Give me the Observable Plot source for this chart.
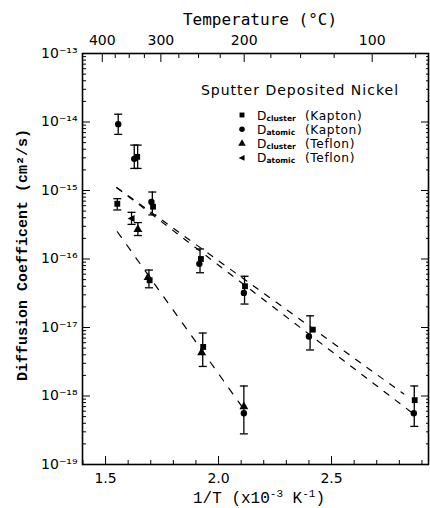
<!DOCTYPE html>
<html><head><meta charset="utf-8">
<script src="https://cdn.jsdelivr.net/npm/d3@7"></script>
<script src="https://cdn.jsdelivr.net/npm/@observablehq/plot@0.6"></script>
<style>
html,body{margin:0;padding:0;background:#fff;}
#chart{position:relative;width:430px;height:508px;}
</style></head><body><div id="chart"></div>
<script>
// ---------- data ----------
const clusterKaptonX = [1.640, 1.552, 1.710, 1.695, 1.922, 2.117, 1.932, 2.417, 2.868];
const clusterKaptonD = [3.1e-15, 6.4e-16, 5.8e-16, 4.9e-17, 1.0e-16, 4.0e-17, 5.2e-18, 9.3e-18, 8.7e-19];
const atomicKaptonX = [1.556, 1.627, 1.703, 1.915, 2.112, 2.112, 2.400, 2.864];
const atomicKaptonD = [9.3e-15, 2.9e-15, 6.8e-16, 8.5e-17, 3.2e-17, 5.6e-19, 7.4e-18, 5.6e-19];
const clusterTeflonX = [1.643, 1.688, 1.925, 2.112];
const clusterTeflonD = [2.7e-16, 5.4e-17, 4.3e-18, 7.0e-19];
const atomicTeflonX = [1.615];
const atomicTeflonD = [3.9e-16];

const errX  = [1.556, 1.627, 1.642, 1.552, 1.615, 1.643, 1.707, 1.692, 1.918, 2.115, 1.930, 2.112, 2.405, 2.866];
const errLo = [6.6e-15, 2.1e-15, 2.1e-15, 5.2e-16, 3.2e-16, 2.2e-16, 4.4e-16, 3.8e-17, 6.3e-17, 2.2e-17, 2.7e-18, 2.8e-19, 4.7e-18, 3.6e-19];
const errHi = [1.3e-14, 4.6e-15, 4.6e-15, 7.6e-16, 4.8e-16, 3.4e-16, 9.5e-16, 6.9e-17, 1.4e-16, 5.6e-17, 8.3e-18, 1.4e-18, 1.48e-17, 1.4e-18];

const fitAX = [1.55, 2.82];  const fitAD = [1.1e-15, 1.07e-18];
const fitBX = [1.55, 2.85];  const fitBD = [1.1e-15, 5.9e-19];
const fitCX = [1.552, 2.105]; const fitCD = [2.5e-16, 6.9e-19];

const legendMain = ["D", "D", "D", "D"];
const legendSub  = ["cluster", "atomic", "cluster", "atomic"];
const legendHost = ["(Kapton)", "(Kapton)", "(Teflon)", "(Teflon)"];
const legendTitle = "Sputter Deposited Nickel";

const yExponents = [-19, -18, -17, -16, -15, -14, -13];
const xMajorTicks = [1.5, 2.0, 2.5];
const tempMajor = [400, 300, 200, 100];
const tempMinor = [375, 350, 325, 275, 250, 225, 175, 150, 125, 75];

// ---------- helpers ----------
const toInvT = t => 1000 / (t + 273.15);
const sup = {"-":"\u207B","0":"\u2070","1":"\u00B9","2":"\u00B2","3":"\u00B3","4":"\u2074","5":"\u2075","6":"\u2076","7":"\u2077","8":"\u2078","9":"\u2079"};
const toSup = s => String(s).split("").map(c => sup[c] || c).join("");
const yDecades = yExponents.map(e => Math.pow(10, e));
const yMinor = [];
yExponents.slice(0, -1).forEach(e => { for (let m = 2; m <= 9; m++) yMinor.push(m * Math.pow(10, e)); });
const yFives = yExponents.slice(0, -1).map(e => 5 * Math.pow(10, e));
const xMinor = d3.range(14, 30).map(v => v / 10).filter(v => !xMajorTicks.includes(v));

const pts = (xs, ds) => xs.map((x, i) => ({x, d: ds[i]}));
const errs = errX.map((x, i) => ({x, lo: errLo[i], hi: errHi[i]}));
const fit = (xs, ds) => xs.map((x, i) => ({x, d: ds[i]}));

const leftTri = {draw(ctx, size) { const r = Math.sqrt(size / Math.PI) * 1.25;
  ctx.moveTo(-r, 0); ctx.lineTo(r * 0.75, -r * 0.85); ctx.lineTo(r * 0.75, r * 0.85); ctx.closePath(); }};
const capSym = {draw(ctx, size) { const w = Math.sqrt(size / Math.PI);
  ctx.moveTo(-w, 0); ctx.lineTo(w, 0); }};

const dash = "6,8";

const chart = Plot.plot({
  width: 430, height: 508,
  marginLeft: 82, marginRight: 2, marginTop: 53, marginBottom: 44,
  style: {fontFamily: "DejaVu Sans", fontSize: "13px", color: "#000", background: "#fff"},
  x: {domain: [1.398, 2.929]},
  y: {type: "log", domain: [1e-19, 1e-13]},
  marks: [
    // axes: labels
    Plot.axisY({anchor: "left", ticks: yDecades, tickSize: 0, tickPadding: 5, tickFormat: d => "10" + toSup(Math.round(Math.log10(d))), fontSize: 14, label: null}),
    Plot.axisY({anchor: "left", ticks: yFives, tickSize: 0, tickPadding: 6, tickFormat: () => "5", fontSize: 7, label: null}),
    Plot.axisX({anchor: "bottom", ticks: xMajorTicks, tickSize: 0, tickPadding: 9, tickFormat: d3.format(".1f"), fontSize: 14, label: null}),
    Plot.axisX({anchor: "top", ticks: tempMajor.map(toInvT), tickSize: 0, tickPadding: 9, tickFormat: v => String(Math.round(1000 / v - 273.15)), fontSize: 14, label: null}),
    // axes: inward ticks
    Plot.axisY({anchor: "left", ticks: yDecades, tickSize: -8, fill: "none", label: null}),
    Plot.axisY({anchor: "left", ticks: yMinor, tickSize: -4, fill: "none", label: null}),
    Plot.axisY({anchor: "right", ticks: yDecades, tickSize: -8, fill: "none", label: null}),
    Plot.axisY({anchor: "right", ticks: yMinor, tickSize: -3, fill: "none", label: null}),
    Plot.axisX({anchor: "bottom", ticks: xMajorTicks, tickSize: -8, fill: "none", label: null}),
    Plot.axisX({anchor: "bottom", ticks: xMinor, tickSize: -4, fill: "none", label: null}),
    Plot.axisX({anchor: "top", ticks: tempMajor.map(toInvT), tickSize: -8, fill: "none", label: null}),
    Plot.axisX({anchor: "top", ticks: tempMinor.map(toInvT), tickSize: -4, fill: "none", label: null}),
    Plot.frame({stroke: "#000", strokeWidth: 1.6}),
    // fit lines
    Plot.line(fit(fitAX, fitAD), {x: "x", y: "d", stroke: "#000", strokeWidth: 1.2, strokeDasharray: dash}),
    Plot.line(fit(fitBX, fitBD), {x: "x", y: "d", stroke: "#000", strokeWidth: 1.2, strokeDasharray: dash}),
    Plot.line(fit(fitCX, fitCD), {x: "x", y: "d", stroke: "#000", strokeWidth: 1.2, strokeDasharray: "7,9"}),
    // error bars
    Plot.ruleX(errs, {x: "x", y1: "lo", y2: "hi", stroke: "#000", strokeWidth: 1.3}),
    Plot.dot(errs, {x: "x", y: "lo", symbol: capSym, r: 4, stroke: "#000", strokeWidth: 1.3, fill: "none"}),
    Plot.dot(errs, {x: "x", y: "hi", symbol: capSym, r: 4, stroke: "#000", strokeWidth: 1.3, fill: "none"}),
    // points
    Plot.dot(pts(clusterKaptonX, clusterKaptonD), {x: "x", y: "d", symbol: "square", r: 3.3, fill: "#000", stroke: "none"}),
    Plot.dot(pts(atomicKaptonX, atomicKaptonD), {x: "x", y: "d", symbol: "circle", r: 3.2, fill: "#000", stroke: "none"}),
    Plot.dot(pts(clusterTeflonX, clusterTeflonD), {x: "x", y: "d", symbol: "triangle", r: 3.3, fill: "#000", stroke: "none"}),
    Plot.dot(pts(atomicTeflonX, atomicTeflonD), {x: "x", y: "d", symbol: leftTri, r: 3.2, fill: "#000", stroke: "none"})
  ]
});
document.getElementById("chart").appendChild(chart);

// ---------- titles & legend ----------
const svg = d3.select(chart);
svg.append("text").attr("x", 260).attr("y", 25).attr("text-anchor", "middle")
  .attr("font-family", "DejaVu Sans Mono").attr("font-size", 16).text("Temperature (\u00B0C)");

const xt = svg.append("text").attr("x", 259).attr("y", 503).attr("text-anchor", "middle")
  .attr("font-family", "Liberation Mono").attr("font-size", 16);
xt.append("tspan").text("1/T (x10");
xt.append("tspan").attr("font-size", 11).attr("dy", -6).text("-3");
xt.append("tspan").attr("dy", 6).text(" K");
xt.append("tspan").attr("font-size", 11).attr("dy", -6).text("-1");
xt.append("tspan").attr("dy", 6).text(")");

svg.append("text").attr("transform", "translate(27,255) rotate(-90)").attr("text-anchor", "middle")
  .attr("font-family", "Liberation Mono").attr("font-weight", "bold").attr("font-size", 15)
  .text("Diffusion Coefficent (cm\u00B2/s)");

svg.append("text").attr("x", 300).attr("y", 95).attr("text-anchor", "middle")
  .attr("font-family", "DejaVu Sans").attr("font-size", 14).attr("letter-spacing", 1).text(legendTitle);

const legendSyms = [d3.symbolSquare, d3.symbolCircle, d3.symbolTriangle, leftTri];
const rowY = [115, 129.3, 143.6, 157.9];
legendMain.forEach((m, i) => {
  svg.append("path").attr("transform", `translate(242,${rowY[i]})`)
    .attr("d", d3.symbol(legendSyms[i], 24)()).attr("fill", "#000");
  svg.append("text").attr("x", 257).attr("y", rowY[i] + 4.5).attr("text-anchor", "start")
    .attr("font-family", "DejaVu Sans").attr("font-size", 12.2).text(m);
  svg.append("text").attr("x", 266.5).attr("y", rowY[i] + 5.5).attr("text-anchor", "start")
    .attr("font-family", "DejaVu Sans").attr("font-size", 7.5).attr("font-weight", "bold").text(legendSub[i]);
  svg.append("text").attr("x", 305).attr("y", rowY[i] + 4.5).attr("text-anchor", "start")
    .attr("font-family", "DejaVu Sans").attr("font-size", 12.2).attr("letter-spacing", 0.6).text(legendHost[i]);
});
</script></body></html>
